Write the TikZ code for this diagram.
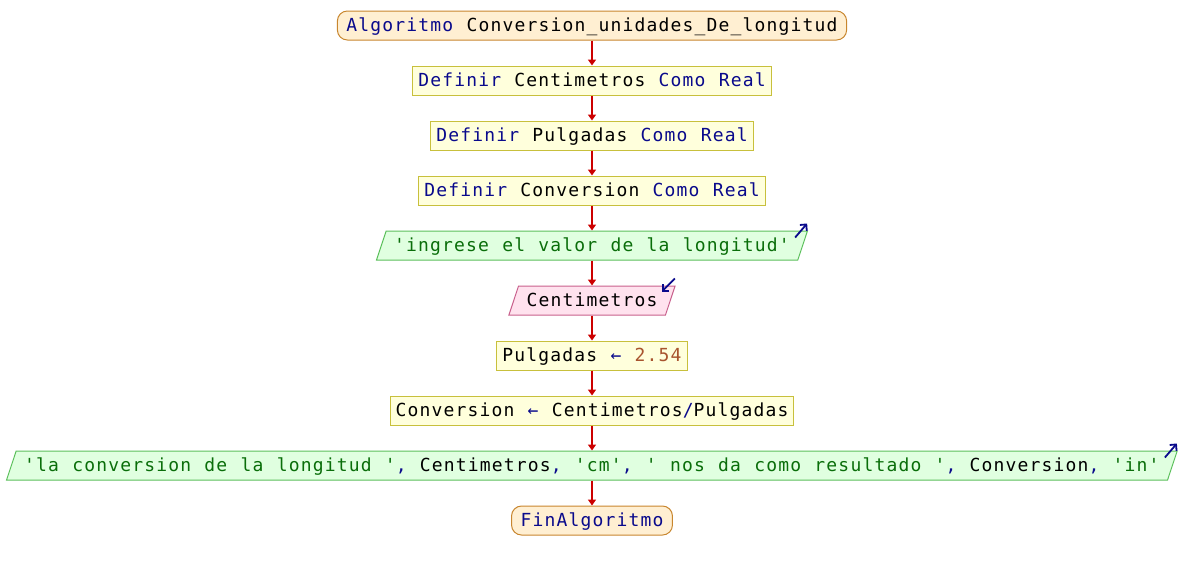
\documentclass[tikz,border=0pt]{standalone}
\usepackage{fontspec}
\usepackage{xcolor}
\usepackage{tikz}
\usetikzlibrary{arrows.meta,positioning,shapes.geometric}

\newfontfamily\psfont{DejaVu Sans Mono}[LetterSpace=6.5, WordSpace={1.107,0,0}]
\definecolor{kwblue}{HTML}{0A0A8C}
\definecolor{strgreen}{HTML}{0A6E0A}
\definecolor{numbrown}{HTML}{A8542E}
\definecolor{flowred}{HTML}{CC0000}
\definecolor{termfill}{HTML}{FFEFD2}
\definecolor{termline}{HTML}{C8862E}
\definecolor{procfill}{HTML}{FFFFDC}
\definecolor{procline}{HTML}{C8C03C}
\definecolor{outfill}{HTML}{E0FFE0}
\definecolor{outline}{HTML}{5CC05C}
\definecolor{infill}{HTML}{FFE2EE}
\definecolor{inline}{HTML}{C8608C}
\newcommand{\kw}[1]{\textcolor{kwblue}{#1}}
\newcommand{\lit}[1]{\textcolor{strgreen}{#1}}
\newcommand{\num}[1]{\textcolor{numbrown}{#1}}

\begin{document}
\begin{tikzpicture}[
  every node/.style={font=\psfont\fontsize{18}{21}\selectfont, text height=14pt, text depth=3pt, inner ysep=6pt},
  term/.style={draw=termline, fill=termfill, rounded corners=10pt, inner xsep=9pt, line width=1pt},
  proc/.style={draw=procline, fill=procfill, inner xsep=5.5pt, line width=1pt},
  io/.style={trapezium, trapezium left angle=71.6, trapezium right angle=108.4, inner xsep=8pt, line width=1pt},
  outp/.style={io, draw=outline, fill=outfill},
  inp/.style={io, draw=inline, fill=infill},
  arr/.style={draw=flowred, line width=1.5pt, -{Triangle[width=8pt,length=6pt]}},
  ioarr/.style={draw=kwblue, line width=1.8pt, -{Straight Barb[length=4.5pt,width=9pt]}}
]
\useasboundingbox (0,0) rectangle (1184pt,-570pt);

\node[term] (start) at (592pt,-25.5pt) {\kw{Algoritmo} Conversion\_unidades\_De\_longitud};
\node[proc, below=25pt of start] (defcm) {\kw{Definir} Centimetros \kw{Como Real}};
\node[proc, below=25pt of defcm] (defin) {\kw{Definir} Pulgadas \kw{Como Real}};
\node[proc, below=25pt of defin] (defconv) {\kw{Definir} Conversion \kw{Como Real}};
\node[outp, below=25pt of defconv] (ask) {\lit{'ingrese el valor de la longitud'}};
\node[inp, below=25pt of ask] (readcm) {Centimetros};
\node[proc, below=25pt of readcm] (setin) {Pulgadas \kw{←} \num{2.54}};
\node[proc, below=25pt of setin] (calc) {Conversion \kw{←} Centimetros\kw{/}Pulgadas};
\node[outp, below=25pt of calc] (show) {\lit{'la conversion de la longitud '}\kw{,} Centimetros\kw{,} \lit{'cm'}\kw{,} \lit{' nos da como resultado '}\kw{,} Conversion\kw{,} \lit{'in'}};
\node[term, below=25pt of show] (stop) {\kw{FinAlgoritmo}};

\draw[arr] (start.south) -- (defcm.north);
\draw[arr] (defcm.south) -- (defin.north);
\draw[arr] (defin.south) -- (defconv.north);
\draw[arr] (defconv.south) -- (ask.north);
\draw[arr] (ask.south) -- (readcm.north);
\draw[arr] (readcm.south) -- (setin.north);
\draw[arr] (setin.south) -- (calc.north);
\draw[arr] (calc.south) -- (show.north);
\draw[arr] (show.south) -- (stop.north);

% in/out markers
\draw[ioarr] ([shift={(-13pt,-7pt)}]ask.top right corner) -- ([shift={(-1pt,7pt)}]ask.top right corner);
\draw[ioarr] ([shift={(-1pt,7pt)}]readcm.top right corner) -- ([shift={(-14pt,-6pt)}]readcm.top right corner);
\draw[ioarr] ([shift={(-13pt,-7pt)}]show.top right corner) -- ([shift={(-1pt,7pt)}]show.top right corner);
\end{tikzpicture}
\end{document}
